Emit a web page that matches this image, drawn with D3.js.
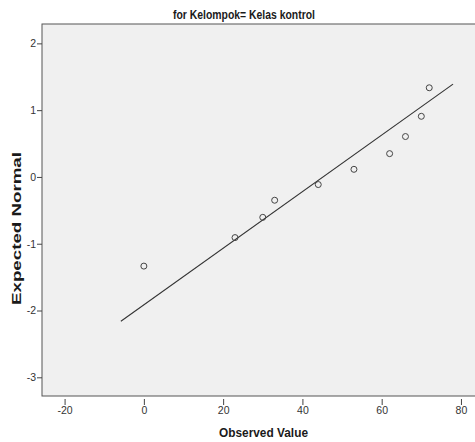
<!DOCTYPE html>
<html>
<head>
<meta charset="utf-8">
<script src="https://cdn.jsdelivr.net/npm/d3@7"></script>
<style>
  body { margin: 0; background: #fff; }
  .lab { font-family: "Liberation Sans", Arial, sans-serif; font-weight: bold; fill: #1a1a1a; }
</style>
</head>
<body>
<div id="chart"></div>
<script>
// observed values and their expected normal scores
var observed = [0, 23, 30, 33, 44, 53, 62, 66, 70, 72];
var expected = [-1.335, -0.908, -0.605, -0.349, -0.114, 0.114, 0.349, 0.605, 0.908, 1.335];

// reference line end points
var lineObserved = [-5.8, 78];
var lineExpected = [-2.16, 1.39];

var xTicks = [-20, 0, 20, 40, 60, 80];
var yTicks = [-3, -2, -1, 0, 1, 2];

var width = 475, height = 442;
var margin = { top: 24, right: -3, bottom: 46, left: 42 };

var svg = d3.select("#chart").append("svg")
  .attr("width", width)
  .attr("height", height);

var x = d3.scaleLinear()
  .domain([-25.7, 84.3])
  .range([margin.left, width - margin.right]);

var y = d3.scaleLinear()
  .domain([-3.28, 2.29])
  .range([height - margin.bottom, margin.top]);

var fmt = d => String(d);

// plot area
svg.append("rect")
  .attr("x", x.range()[0])
  .attr("y", y.range()[1])
  .attr("width", x.range()[1] - x.range()[0])
  .attr("height", y.range()[0] - y.range()[1])
  .style("fill", "#f0f0f0")
  .style("stroke", "#555")
  .style("stroke-width", 1);

var xAxis = d3.axisBottom(x)
  .tickValues(xTicks)
  .tickFormat(fmt)
  .tickSize(6)
  .tickSizeOuter(0)
  .tickPadding(2);

var yAxis = d3.axisLeft(y)
  .tickValues(yTicks)
  .tickFormat(fmt)
  .tickSize(5)
  .tickSizeOuter(0)
  .tickPadding(1);

var gx = svg.append("g")
  .attr("transform", `translate(0, ${y.range()[0] + 3})`)
  .call(xAxis);

var gy = svg.append("g")
  .attr("transform", `translate(${x.range()[0]}, 0)`)
  .call(yAxis);

[gx, gy].forEach(g => {
  g.select(".domain").remove();
  g.selectAll(".tick line").style("stroke", "#444");
  g.selectAll(".tick text")
    .style("font-family", "Liberation Sans, Arial, sans-serif")
    .style("font-size", "10.5px")
    .style("fill", "#333");
});

// reference line
svg.append("line")
  .attr("x1", x(lineObserved[0]))
  .attr("y1", y(lineExpected[0]))
  .attr("x2", x(lineObserved[1]))
  .attr("y2", y(lineExpected[1]))
  .style("stroke", "#333")
  .style("stroke-width", 1.1);

// points
svg.selectAll("circle.pt")
  .data(observed)
  .enter()
  .append("circle")
  .attr("class", "pt")
  .attr("cx", d => x(d))
  .attr("cy", (d, i) => y(expected[i]))
  .attr("r", 3)
  .style("fill", "none")
  .style("stroke", "#444")
  .style("stroke-width", 1);

// titles
svg.append("text")
  .attr("class", "lab")
  .attr("x", 244)
  .attr("y", 18.5)
  .style("text-anchor", "middle")
  .style("font-size", "12px")
  .attr("textLength", 142)
  .attr("lengthAdjust", "spacingAndGlyphs")
  .text("for Kelompok= Kelas kontrol");

svg.append("text")
  .attr("class", "lab")
  .attr("x", 263.5)
  .attr("y", 436.5)
  .style("text-anchor", "middle")
  .style("font-size", "13px")
  .attr("textLength", 89)
  .attr("lengthAdjust", "spacingAndGlyphs")
  .text("Observed Value");

svg.append("text")
  .attr("class", "lab")
  .attr("transform", "translate(20.5, 228.5) rotate(-90)")
  .style("text-anchor", "middle")
  .style("font-size", "12.5px")
  .attr("textLength", 153)
  .attr("lengthAdjust", "spacingAndGlyphs")
  .text("Expected Normal");
</script>
</body>
</html>
